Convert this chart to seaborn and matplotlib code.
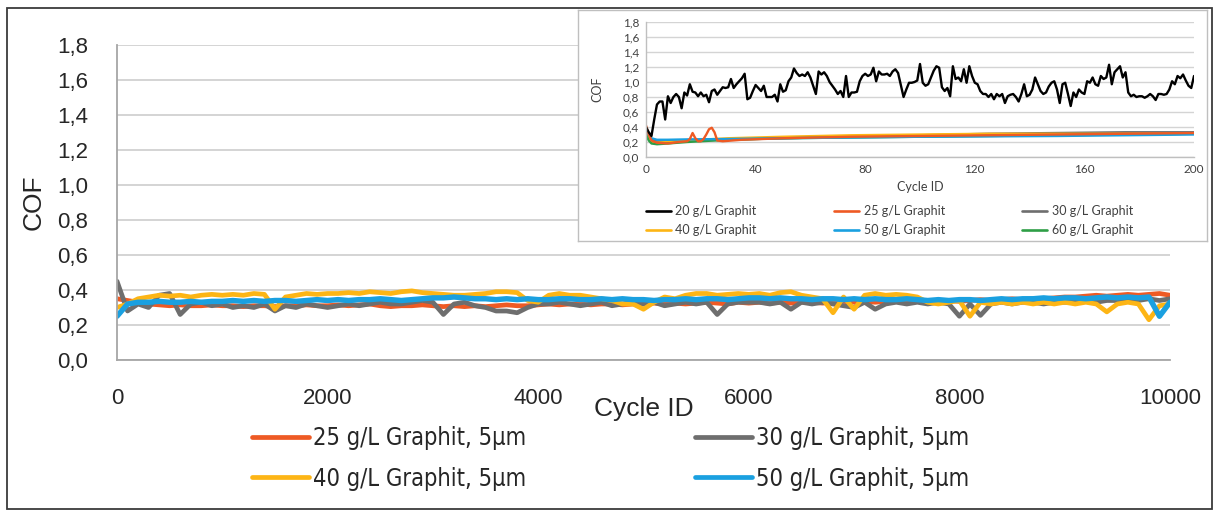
import numpy as np
import matplotlib
matplotlib.use("Agg")
import matplotlib.pyplot as plt
from matplotlib import font_manager as fm
from matplotlib.lines import Line2D
from matplotlib.patches import Rectangle
import seaborn as sns

# ---------------- main chart: 0 - 10000 cycles ----------------
cycles = np.arange(0, 10001, 100)

cof_25 = [0.35, 0.34, 0.33, 0.32, 0.315, 0.31, 0.315, 0.31, 0.31, 0.315,
          0.31, 0.31, 0.305, 0.31, 0.31, 0.305, 0.31, 0.31, 0.315, 0.31,
          0.31, 0.315, 0.31, 0.315, 0.32, 0.31, 0.305, 0.31, 0.31, 0.315,
          0.31, 0.305, 0.31, 0.305, 0.31, 0.305, 0.31, 0.315, 0.31, 0.31,
          0.315, 0.32, 0.315, 0.32, 0.32, 0.315, 0.32, 0.32, 0.315, 0.32,
          0.32, 0.325, 0.32, 0.325, 0.32, 0.325, 0.33, 0.325, 0.32, 0.33,
          0.325, 0.33, 0.325, 0.33, 0.325, 0.33, 0.33, 0.325, 0.33, 0.335,
          0.33, 0.335, 0.33, 0.335, 0.34, 0.335, 0.34, 0.335, 0.34, 0.34,
          0.335, 0.34, 0.345, 0.34, 0.345, 0.35, 0.345, 0.35, 0.35, 0.355,
          0.36, 0.36, 0.365, 0.37, 0.365, 0.37, 0.375, 0.37, 0.375, 0.38,
          0.37]

cof_30 = [0.45, 0.28, 0.32, 0.30, 0.37, 0.38, 0.26, 0.32, 0.33, 0.31,
          0.32, 0.30, 0.31, 0.30, 0.32, 0.28, 0.31, 0.30, 0.32, 0.31,
          0.30, 0.31, 0.32, 0.31, 0.32, 0.33, 0.32, 0.32, 0.33, 0.34,
          0.33, 0.26, 0.32, 0.33, 0.31, 0.30, 0.28, 0.28, 0.27, 0.30,
          0.32, 0.32, 0.33, 0.32, 0.31, 0.32, 0.33, 0.31, 0.32, 0.33,
          0.32, 0.33, 0.31, 0.32, 0.33, 0.32, 0.33, 0.26, 0.32, 0.33,
          0.33, 0.33, 0.32, 0.33, 0.29, 0.33, 0.32, 0.33, 0.32, 0.31,
          0.30, 0.33, 0.29, 0.32, 0.33, 0.32, 0.33, 0.32, 0.33, 0.32,
          0.25, 0.32, 0.255, 0.32, 0.33, 0.32, 0.33, 0.33, 0.32, 0.33,
          0.33, 0.33, 0.34, 0.33, 0.34, 0.34, 0.35, 0.34, 0.35, 0.34,
          0.35]

cof_40 = [0.30, 0.32, 0.35, 0.36, 0.37, 0.365, 0.37, 0.36, 0.37, 0.375,
          0.37, 0.375, 0.37, 0.38, 0.375, 0.29, 0.36, 0.37, 0.38, 0.375,
          0.38, 0.38, 0.385, 0.38, 0.39, 0.385, 0.38, 0.39, 0.395, 0.385,
          0.38, 0.375, 0.37, 0.37, 0.375, 0.38, 0.39, 0.39, 0.385, 0.34,
          0.33, 0.37, 0.38, 0.37, 0.37, 0.36, 0.35, 0.34, 0.32, 0.32,
          0.29, 0.33, 0.36, 0.35, 0.37, 0.38, 0.38, 0.37, 0.375, 0.38,
          0.375, 0.38, 0.37, 0.385, 0.39, 0.37, 0.36, 0.35, 0.27, 0.36,
          0.29, 0.37, 0.38, 0.37, 0.375, 0.37, 0.36, 0.33, 0.32, 0.33,
          0.34, 0.25, 0.33, 0.32, 0.33, 0.32, 0.33, 0.32, 0.33, 0.32,
          0.33, 0.32, 0.33, 0.32, 0.275, 0.32, 0.33, 0.32, 0.23, 0.31,
          0.32]

cof_50 = [0.25, 0.32, 0.33, 0.33, 0.335, 0.33, 0.33, 0.335, 0.33, 0.335,
          0.335, 0.34, 0.335, 0.34, 0.335, 0.34, 0.34, 0.335, 0.34, 0.345,
          0.34, 0.345, 0.34, 0.345, 0.345, 0.35, 0.345, 0.34, 0.345, 0.35,
          0.355, 0.355, 0.36, 0.355, 0.35, 0.35, 0.345, 0.35, 0.345, 0.35,
          0.345, 0.345, 0.35, 0.35, 0.345, 0.345, 0.35, 0.345, 0.35, 0.345,
          0.345, 0.34, 0.345, 0.345, 0.35, 0.345, 0.35, 0.35, 0.345, 0.35,
          0.355, 0.355, 0.35, 0.355, 0.35, 0.35, 0.345, 0.35, 0.35, 0.345,
          0.35, 0.345, 0.35, 0.345, 0.345, 0.35, 0.345, 0.34, 0.345, 0.34,
          0.345, 0.345, 0.34, 0.345, 0.35, 0.345, 0.35, 0.35, 0.355, 0.35,
          0.355, 0.355, 0.35, 0.355, 0.36, 0.355, 0.36, 0.355, 0.36, 0.25,
          0.33]

main_labels = ["25 g/L Graphit, 5µm", "30 g/L Graphit, 5µm",
               "40 g/L Graphit, 5µm", "50 g/L Graphit, 5µm"]
main_xticks = [0, 2000, 4000, 6000, 8000, 10000]

# ---------------- inset: first 200 cycles ----------------
inset_cycles = np.arange(0, 201)
inset_20 = [0.40, 0.33, 0.28, 0.50, 0.70, 0.74, 0.74, 0.50, 0.81, 0.72,
            0.80, 0.84, 0.80, 0.65, 0.86, 0.82, 0.97, 0.87, 0.86, 0.81,
            0.86, 0.81, 0.83, 0.73, 0.88, 0.90, 0.83, 0.88, 0.93, 0.92,
            0.93, 1.04, 0.92, 0.97, 1.01, 1.05, 1.11, 0.77, 0.79, 0.88,
            0.96, 0.92, 0.88, 0.95, 0.80, 0.80, 0.80, 0.83, 0.74, 0.97,
            0.87, 0.89, 1.01, 1.06, 1.18, 1.12, 1.08, 1.10, 1.08, 1.13,
            1.06, 0.95, 0.84, 1.14, 1.10, 1.13, 1.08, 1.00, 0.95, 0.90,
            0.84, 0.88, 0.80, 1.08, 0.80, 0.86, 0.86, 0.87, 1.01, 1.08,
            1.11, 1.08, 1.10, 1.19, 1.01, 1.14, 1.10, 1.10, 1.11, 1.08,
            1.14, 1.17, 1.12, 0.96, 0.80, 0.90, 0.99, 0.99, 1.00, 1.02,
            1.24, 0.99, 0.95, 0.97, 1.06, 1.15, 1.21, 1.19, 0.93, 0.88,
            0.92, 0.81, 1.21, 1.04, 1.06, 1.01, 1.17, 0.99, 1.21, 1.08,
            0.99, 0.97, 0.88, 0.84, 0.84, 0.80, 0.84, 0.77, 0.84, 0.81,
            0.84, 0.72, 0.81, 0.83, 0.84, 0.80, 0.74, 0.84, 0.97, 0.81,
            0.83, 0.90, 1.06, 0.97, 0.88, 0.84, 0.86, 0.94, 0.99, 1.01,
            0.90, 0.72, 0.97, 0.99, 0.84, 0.68, 0.86, 0.80, 0.90, 0.86,
            0.84, 1.01, 0.99, 1.06, 0.97, 0.95, 1.08, 1.04, 1.06, 1.23,
            0.97, 1.13, 1.17, 1.21, 1.06, 1.13, 0.86, 0.81, 0.83, 0.80,
            0.81, 0.81, 0.79, 0.81, 0.84, 0.81, 0.76, 0.84, 0.84, 0.83,
            0.84, 0.90, 1.01, 0.97, 1.08, 1.05, 1.10, 1.02, 0.95, 0.92,
            1.08]

inset_25_cycles = [0, 1, 2, 4, 8, 12, 15, 16, 17, 18, 19, 20, 21, 22, 23, 24,
                   25, 26, 28, 35, 50, 75, 100, 125, 150, 175, 200]
inset_25 = [0.42, 0.30, 0.22, 0.19, 0.18, 0.20, 0.21, 0.24, 0.32, 0.25, 0.21,
            0.21, 0.24, 0.30, 0.37, 0.39, 0.33, 0.22, 0.21, 0.23, 0.25, 0.27,
            0.28, 0.29, 0.30, 0.31, 0.32]

inset_pts = [0, 1, 2, 4, 8, 15, 30, 50, 75, 100, 125, 150, 175, 200]
inset_30 = [0.36, 0.30, 0.23, 0.21, 0.21, 0.22, 0.23, 0.25, 0.27, 0.29, 0.31, 0.32, 0.33, 0.33]
inset_40 = [0.30, 0.24, 0.20, 0.19, 0.20, 0.22, 0.25, 0.27, 0.29, 0.30, 0.31, 0.31, 0.31, 0.31]
inset_50 = [0.35, 0.30, 0.25, 0.23, 0.23, 0.235, 0.24, 0.25, 0.26, 0.27, 0.275, 0.28, 0.29, 0.30]
inset_60 = [0.30, 0.22, 0.18, 0.17, 0.18, 0.20, 0.23, 0.25, 0.26, 0.27, 0.28, 0.29, 0.30, 0.31]

inset_labels = ["20 g/L Graphit", "25 g/L Graphit", "30 g/L Graphit",
                "40 g/L Graphit", "50 g/L Graphit", "60 g/L Graphit"]
inset_xticks = [0, 40, 80, 120, 160, 200]

yticks = np.round(np.arange(0, 1.81, 0.2), 1)
ytick_labels = [f"{v:.1f}".replace(".", ",") for v in yticks]

C_RED, C_GRAY, C_YEL, C_BLUE, C_GREEN = "#EE5A24", "#6E6E6E", "#FDB515", "#1AA0E0", "#2E9E46"

sns.set_theme(style="white")
plt.rcParams["font.family"] = ["Liberation Sans", "DejaVu Sans"]


def narrow_legend_font(size):
    """Use a condensed sans face for the main legend when one is installed."""
    wanted = ("narrow", "condensed", "cond")
    best = None
    for f in fm.fontManager.ttflist:
        name = f.name.lower()
        fname = f.fname.lower()
        condensed = (any(w in name for w in wanted) or f.stretch in
                     ("condensed", "semi-condensed", "extra-condensed", 87.5, 75, 62.5)
                     or "condensed" in fname or "narrow" in fname)
        if not condensed or "mono" in name or "serif" in name and "sans" not in name:
            continue
        if f.style != "normal" or f.weight not in (400, "normal", "regular"):
            continue
        if "semicondensed" in fname.replace("-", "").replace("_", ""):
            rank = 1
        else:
            rank = 0
        if best is None or rank < best[0]:
            best = (rank, f.fname)
    if best is not None:
        return fm.FontProperties(fname=best[1], size=size)
    return fm.FontProperties(family=["Liberation Sans", "DejaVu Sans"], size=size * 0.95)


W, H = 1218, 516
fig = plt.figure(figsize=(W / 100, H / 100), dpi=100)
fig.patch.set_facecolor("white")


def px(x0, y0, x1, y1):
    """Pixel box (left, top, right, bottom) -> figure fraction rect."""
    return [x0 / W, 1 - y1 / H, (x1 - x0) / W, (y1 - y0) / H]


# ---- main axes ----
ax = fig.add_axes(px(117, 45, 1170, 360))
ax.set_zorder(1)
for vals, col, lw in [(cof_25, C_RED, 3.4), (cof_30, C_GRAY, 3.4),
                      (cof_40, C_YEL, 3.4), (cof_50, C_BLUE, 3.9)]:
    sns.lineplot(x=cycles, y=vals, ax=ax, color=col, linewidth=lw, legend=False)

ax.set_xlim(0, 10000)
ax.set_ylim(0, 1.8)
ax.set_yticks(yticks)
ax.set_yticklabels(ytick_labels)
ax.set_xticks(main_xticks)
ax.set_xticklabels([str(v) for v in main_xticks])
ax.yaxis.grid(True, color="#d4d4d4", linewidth=1.4)
ax.xaxis.grid(False)
ax.set_axisbelow(True)
for s in ["top", "right"]:
    ax.spines[s].set_visible(False)
ax.spines["left"].set_color("#a6a6a6")
ax.spines["bottom"].set_color("#a6a6a6")
ax.spines["left"].set_linewidth(1.3)
ax.spines["bottom"].set_linewidth(1.3)
ax.tick_params(axis="both", length=0, labelsize=16, colors="#262626")
ax.tick_params(axis="y", pad=21)
ax.tick_params(axis="x", pad=20)
ax.set_xlabel("Cycle ID", fontsize=19, color="#262626")
ax.set_ylabel("COF", fontsize=19, color="#262626")
ax.xaxis.set_label_coords(0.5, -0.118)
ax.yaxis.set_label_coords(-0.068, 0.5)

legend_prop = narrow_legend_font(17)
legend_labels = [main_labels[0], main_labels[2], main_labels[1], main_labels[3]]
main_handles = [Line2D([], [], color=c, lw=3.4) for c in (C_RED, C_YEL, C_GRAY, C_BLUE)]
legend_kw = dict(ncol=2, loc="upper left", bbox_to_anchor=(252 / W, 1 - 426 / H),
                 bbox_transform=fig.transFigure, frameon=False, borderpad=0,
                 borderaxespad=0, handlelength=2.4, handletextpad=0.2,
                 labelspacing=0.7, prop=legend_prop, labelcolor="#262626")
leg = ax.legend(main_handles, legend_labels, columnspacing=10.0, **legend_kw)

# place the second legend column so its handles start at x = 695 px
fig.canvas.draw()
renderer = fig.canvas.get_renderer()
col_boxes = leg._legend_handle_box.get_children()
first_col_x = col_boxes[0].get_window_extent(renderer).x0
second_col_x = col_boxes[1].get_window_extent(renderer).x0
fs_px = legend_prop.get_size_in_points() * 100 / 72
leg.remove()
ax.legend(main_handles, legend_labels,
          columnspacing=10.0 + ((695 - 252) - (second_col_x - first_col_x)) / fs_px,
          **legend_kw)

# ---- inset frame ----
frame = fig.add_axes(px(578, 10, 1207, 241))
frame.set_zorder(3)
frame.set_facecolor("white")
frame.set_xticks([])
frame.set_yticks([])
for s in frame.spines.values():
    s.set_color("#bfbfbf")
    s.set_linewidth(1.0)

# ---- inset axes ----
axi = fig.add_axes(px(646, 22, 1194, 157))
axi.set_zorder(4)
axi.patch.set_alpha(0)
sns.lineplot(x=inset_pts, y=inset_30, ax=axi, color=C_GRAY, linewidth=1.7, legend=False)
sns.lineplot(x=inset_pts, y=inset_40, ax=axi, color=C_YEL, linewidth=1.7, legend=False)
sns.lineplot(x=inset_pts, y=inset_60, ax=axi, color=C_GREEN, linewidth=1.7, legend=False)
sns.lineplot(x=inset_pts, y=inset_50, ax=axi, color=C_BLUE, linewidth=1.7, legend=False)
sns.lineplot(x=inset_25_cycles, y=inset_25, ax=axi, color=C_RED, linewidth=1.7, legend=False)
sns.lineplot(x=inset_cycles, y=inset_20, ax=axi, color="black", linewidth=1.7, legend=False)

axi.set_xlim(0, 200)
axi.set_ylim(0, 1.8)
axi.set_yticks(yticks)
axi.set_yticklabels(ytick_labels)
axi.set_xticks(inset_xticks)
axi.set_xticklabels([str(v) for v in inset_xticks])
axi.yaxis.grid(True, color="#d4d4d4", linewidth=1.0)
axi.xaxis.grid(False)
axi.set_axisbelow(True)
for s in ["top", "right"]:
    axi.spines[s].set_visible(False)
for s in ["left", "bottom"]:
    axi.spines[s].set_color("#bfbfbf")
    axi.spines[s].set_linewidth(1.0)
inset_font = ["Lato", "DejaVu Sans"]
axi.tick_params(axis="both", length=0, labelsize=8.5, colors="#404040", pad=5)
for t in axi.get_xticklabels() + axi.get_yticklabels():
    t.set_family(inset_font)
axi.set_xlabel("Cycle ID", fontsize=9, color="#404040", family=inset_font)
axi.set_ylabel("COF", fontsize=9, color="#404040", family=inset_font)
axi.xaxis.set_label_coords(0.5, -0.175)
axi.yaxis.set_label_coords(-0.078, 0.5)

inset_cols = ["black", C_RED, C_GRAY, C_YEL, C_BLUE, C_GREEN]
order = [0, 3, 1, 4, 2, 5]
inset_handles = [Line2D([], [], color=inset_cols[i], lw=1.9) for i in order]
axi.legend(inset_handles, [inset_labels[i] for i in order], ncol=3, loc="upper left",
           bbox_to_anchor=(646 / W, 1 - 205 / H), bbox_transform=fig.transFigure,
           frameon=False, borderpad=0, borderaxespad=0, handlelength=2.0,
           handletextpad=0.35, columnspacing=6.2, labelspacing=0.55,
           prop={"family": inset_font, "size": 9}, labelcolor="#404040")

# outer frame around the whole figure
fig.add_artist(Rectangle((7 / W, 1 - 509 / H), 1205 / W, 501 / H, transform=fig.transFigure,
                         fill=False, edgecolor="#3a3a3a", linewidth=1.3))

fig.savefig("out.png", dpi=100, facecolor="white")
